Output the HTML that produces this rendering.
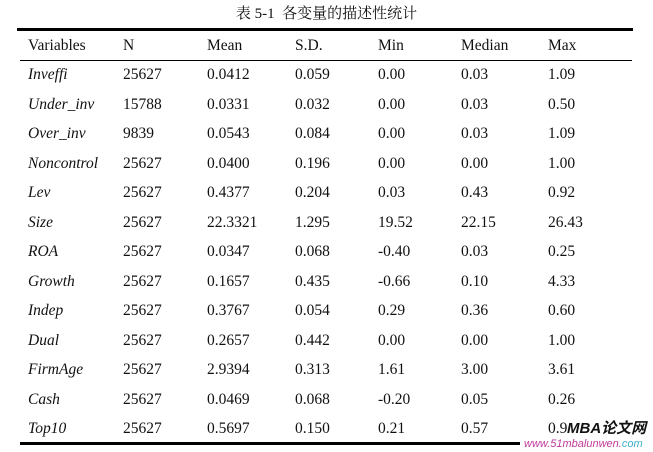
<!DOCTYPE html>
<html><head><meta charset="utf-8"><style>
body{margin:0;width:653px;height:451px;background:#fff;position:relative;overflow:hidden;font-family:"Liberation Serif","Noto Serif CJK SC",serif;color:#111;font-size:15.5px}
.t{position:absolute;white-space:nowrap;line-height:16px}
.i{font-style:italic}
.r{position:absolute;background:#000}
</style></head><body>
<div class="t" style="left:0;width:653px;text-align:center;top:6px;font-size:15px">表 5-1&nbsp; 各变量的描述性统计</div>
<div class="r" style="left:17px;top:28px;width:616px;height:3px"></div>
<div class="r" style="left:20px;top:60px;width:612px;height:1px"></div>
<div class="r" style="left:20px;top:442px;width:500px;height:3px"></div>
<div id="c"></div>
<div class="t" style="left:567px;top:421px;font-family:'Liberation Sans','Noto Sans CJK SC',sans-serif;font-weight:bold;font-style:italic;font-size:15px;color:#111">MBA论文网</div>
<div class="t" style="left:524px;top:436px;font-family:'Liberation Sans',sans-serif;font-style:italic;font-size:11px;color:#c0399b">www.51mbalunwen.<span style="color:#3ab0c8">com</span></div>
<script>
var xs=[28,123,207,295,378,461,548];
var rows=[["Variables","N","Mean","S.D.","Min","Median","Max"],
["Inveffi","25627","0.0412","0.059","0.00","0.03","1.09"],
["Under_inv","15788","0.0331","0.032","0.00","0.03","0.50"],
["Over_inv","9839","0.0543","0.084","0.00","0.03","1.09"],
["Noncontrol","25627","0.0400","0.196","0.00","0.00","1.00"],
["Lev","25627","0.4377","0.204","0.03","0.43","0.92"],
["Size","25627","22.3321","1.295","19.52","22.15","26.43"],
["ROA","25627","0.0347","0.068","-0.40","0.03","0.25"],
["Growth","25627","0.1657","0.435","-0.66","0.10","4.33"],
["Indep","25627","0.3767","0.054","0.29","0.36","0.60"],
["Dual","25627","0.2657","0.442","0.00","0.00","1.00"],
["FirmAge","25627","2.9394","0.313","1.61","3.00","3.61"],
["Cash","25627","0.0469","0.068","-0.20","0.05","0.26"],
["Top10","25627","0.5697","0.150","0.21","0.57","0.9"]];
var h="";
rows.forEach(function(r,i){var y=i==0?38:67+(i-1)*29.5;
r.forEach(function(v,j){h+='<div class="t'+(i>0&&j==0?' i':'')+'" style="left:'+xs[j]+'px;top:'+y+'px">'+v+'</div>';});});
document.getElementById("c").innerHTML=h;
</script>
</body></html>
